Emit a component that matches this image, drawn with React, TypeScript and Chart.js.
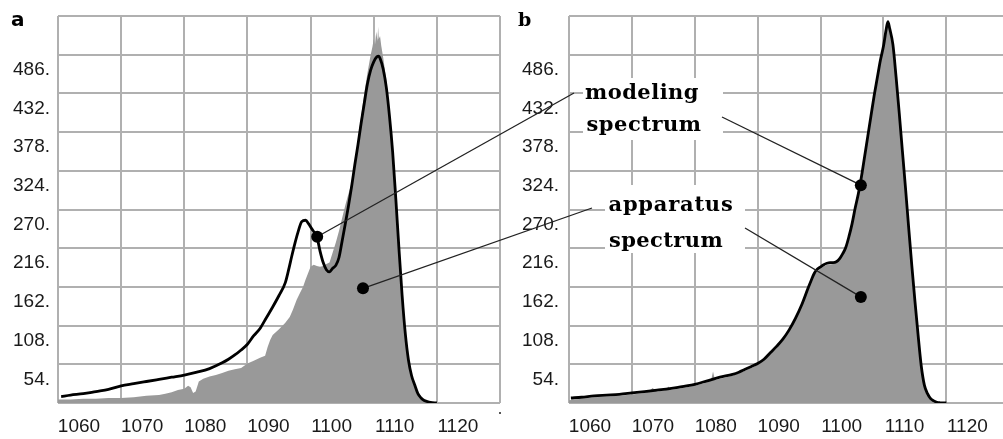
import React, { useEffect, useRef } from 'react';
import { Chart, registerables } from 'chart.js';

Chart.register(...registerables);

// Axis ranges and steps
const X_MIN = 1060;
const X_STEP = 10;
const X_LAST_LABEL = 1120;
const X_MAX_A = 1130;
const X_MAX_B = 1129;
const Y_MAX = 540;
const Y_STEP = 54;

// Panel a: modeling spectrum
const modelAX = [1060.5, 1062, 1064, 1066, 1068, 1070, 1072, 1074, 1076, 1078, 1080, 1082, 1084, 1086, 1087, 1088, 1089, 1090, 1091, 1092, 1093, 1094, 1095, 1096, 1096.5, 1097, 1097.5, 1098, 1098.6, 1099.2, 1099.7, 1100.2, 1100.6, 1101, 1101.5, 1102, 1102.5, 1103, 1103.5, 1104, 1104.5, 1105, 1105.5, 1106, 1106.5, 1107, 1107.5, 1108, 1108.5, 1109, 1109.5, 1110, 1110.5, 1110.8, 1111, 1111.5, 1112, 1112.5, 1113, 1113.5, 1114, 1114.5, 1115, 1115.5, 1116, 1116.5, 1117, 1117.5, 1118, 1118.5, 1119, 1120];
const modelAY = [9, 11, 13, 16, 19, 24, 27, 30, 33, 36, 39, 43, 48, 56, 61, 67, 74, 82, 94, 104, 119, 134, 150, 168, 185, 204, 222, 238, 253, 255, 250, 243, 238, 232, 212, 196, 186, 183, 188, 192, 203, 226, 250, 275, 302, 332, 360, 390, 418, 445, 464, 476, 483, 484, 481, 466, 440, 400, 350, 285, 215, 150, 97, 60, 38, 25, 13, 7, 3.5, 2, 1, 0];

// Panel a: apparatus spectrum
const appAX = [1060, 1062, 1064, 1066, 1068, 1070, 1072, 1074, 1076, 1077, 1078, 1079, 1080, 1080.6, 1081, 1081.4, 1081.8, 1082.3, 1083, 1084, 1085, 1086, 1087, 1088, 1089, 1090, 1091, 1092, 1092.8, 1093.2, 1093.6, 1094, 1095, 1096, 1096.7, 1097.2, 1097.8, 1098.3, 1098.8, 1099.2, 1099.6, 1100, 1100.5, 1101, 1101.5, 1102, 1102.5, 1103, 1103.5, 1104, 1104.5, 1105, 1105.5, 1106, 1106.5, 1107, 1107.5, 1108, 1108.5, 1109, 1109.5, 1109.8, 1110, 1110.2, 1110.4, 1110.6, 1110.7, 1110.8, 1111, 1111.2, 1111.5, 1112, 1112.5, 1113, 1113.5, 1114, 1114.5, 1115, 1115.5, 1116, 1116.5, 1117, 1117.5, 1118, 1118.5, 1119, 1119.5];
const appAY = [5, 5, 6, 6, 7, 7, 8, 10, 11, 13, 15, 18, 20, 24, 22, 14, 16, 30, 34, 37, 39, 42, 45, 47, 49, 55, 59, 63, 66, 78, 88, 95, 103, 112, 120, 130, 144, 153, 162, 172, 181, 190, 193, 191, 190, 191, 194, 196, 210, 224, 240, 258, 276, 292, 307, 335, 367, 400, 432, 460, 485, 497, 508, 500, 518, 505, 525, 508, 512, 498, 482, 450, 405, 352, 285, 213, 148, 95, 58, 36, 22, 12, 6, 3, 1.5, 0.5, 0];

// Panel b: modeling spectrum
const modelBX = [1060.3, 1062, 1064, 1066, 1068, 1070, 1072, 1074, 1076, 1078, 1080, 1082, 1084, 1086, 1087, 1088, 1089, 1090, 1091, 1092, 1093, 1094, 1095, 1096, 1097, 1098, 1098.5, 1099, 1099.5, 1100, 1100.5, 1101, 1101.5, 1102, 1102.5, 1103, 1103.5, 1104, 1104.5, 1105, 1105.5, 1106, 1106.5, 1107, 1107.5, 1108, 1108.5, 1109, 1109.5, 1110, 1110.4, 1110.7, 1111, 1111.5, 1112, 1112.5, 1113, 1113.5, 1114, 1114.5, 1115, 1115.5, 1116, 1116.5, 1117, 1117.5, 1118, 1118.5, 1119, 1120];
const modelBY = [7, 8, 10, 11, 12, 14, 16, 18, 20, 23, 26, 31, 36, 40, 43, 47, 51, 55, 61, 70, 79, 89, 102, 118, 137, 160, 171, 181, 187, 190, 193, 195, 196, 196, 197, 201, 208, 217, 232, 250, 272, 292, 316, 344, 372, 400, 428, 453, 478, 498, 520, 532, 522, 500, 455, 405, 352, 300, 245, 192, 142, 95, 52, 25, 13, 6, 3, 1, 0.3, 0];

// Panel b: apparatus spectrum
const appBX = [1060, 1062, 1064, 1066, 1068, 1070, 1072, 1072.8, 1073.3, 1073.8, 1074, 1075.4, 1075.8, 1076.2, 1078, 1080, 1082, 1082.6, 1082.9, 1083.2, 1084, 1086, 1088, 1090, 1092, 1094, 1096, 1098, 1099, 1100, 1101, 1102, 1103, 1104, 1105, 1106, 1107, 1108, 1109, 1110, 1110.4, 1110.7, 1111, 1111.5, 1112, 1112.5, 1113, 1113.5, 1114, 1114.5, 1115, 1115.5, 1116, 1116.5, 1117, 1117.5, 1118, 1118.5, 1119];
const appBY = [4, 6, 8, 9, 10, 12, 14, 17, 21, 17, 16, 18, 23, 18, 21, 24, 29, 32, 44, 32, 34, 38, 45, 53, 68, 87, 116, 158, 179, 188, 193, 194, 199, 215, 248, 290, 342, 398, 451, 496, 518, 530, 520, 498, 453, 403, 350, 298, 243, 190, 140, 93, 50, 24, 12, 5, 2, 1, 0];

// Points the callout leaders point at (x, intensity)
const dotModelingA = [1101.05, 232];
const dotApparatusA = [1108.3, 160];
const dotModelingB = [1106.4, 304];
const dotApparatusB = [1106.4, 148];

const GRID = '#b0b0b0';
const GRAY = '#999999';
const INK = '#1a1a1a';
const TICK_FONT = { family: "'Liberation Sans', Arial, sans-serif", size: 19 };
const CALLOUT_FONT = "bold 21px 'DejaVu Serif', serif";

type Pt = { x: number; y: number };
const toPoints = (xs: number[], ys: number[]): Pt[] => xs.map((x, i) => ({ x, y: ys[i] }));

type Leader = { from: [number, number]; panel: 'a' | 'b'; dot: number[] };
type Callout = {
  box: [number, number, number, number];
  lines: { text: string; cx: number; base: number; width: number }[];
  leaders: Leader[];
};

const CALLOUTS: Callout[] = [
  {
    box: [583, 78, 140, 62],
    lines: [
      { text: 'modeling', cx: 642, base: 99, width: 114 },
      { text: 'spectrum', cx: 644, base: 131, width: 115 },
    ],
    leaders: [
      { from: [574, 93], panel: 'a', dot: dotModelingA },
      { from: [722, 117], panel: 'b', dot: dotModelingB },
    ],
  },
  {
    box: [605, 185, 140, 68],
    lines: [
      { text: 'apparatus', cx: 671, base: 211, width: 125 },
      { text: 'spectrum', cx: 666, base: 247, width: 114 },
    ],
    leaders: [
      { from: [592, 208], panel: 'a', dot: dotApparatusA },
      { from: [745, 228], panel: 'b', dot: dotApparatusB },
    ],
  },
];

function panelTag(text: string, font: string, x: number, y: number, extra?: (ctx: CanvasRenderingContext2D) => void) {
  return {
    id: 'panelTag',
    afterDraw(chart: Chart) {
      const ctx = chart.ctx;
      ctx.save();
      ctx.fillStyle = '#000';
      ctx.font = font;
      ctx.textBaseline = 'alphabetic';
      ctx.textAlign = 'left';
      ctx.fillText(text, x, y);
      if (extra) extra(ctx);
      ctx.restore();
    },
  };
}

function calloutPlugin(getPanelA: () => Chart | null) {
  return {
    id: 'callouts',
    afterDraw(chart: Chart) {
      const panelA = getPanelA();
      if (!panelA) return;
      const ctx = chart.ctx;
      const toPx = (c: Chart, p: number[]) => [c.scales.x.getPixelForValue(p[0]), c.scales.y.getPixelForValue(p[1])];
      ctx.save();
      for (const c of CALLOUTS) {
        ctx.fillStyle = '#ffffff';
        ctx.fillRect(c.box[0], c.box[1], c.box[2], c.box[3]);
      }
      ctx.strokeStyle = '#222';
      ctx.lineWidth = 1.3;
      for (const c of CALLOUTS) {
        for (const l of c.leaders) {
          const [dx, dy] = toPx(l.panel === 'a' ? panelA : chart, l.dot);
          ctx.beginPath();
          ctx.moveTo(l.from[0], l.from[1]);
          ctx.lineTo(dx, dy);
          ctx.stroke();
          ctx.beginPath();
          ctx.fillStyle = '#000';
          ctx.arc(dx, dy, 6, 0, Math.PI * 2);
          ctx.fill();
        }
      }
      ctx.fillStyle = '#000';
      ctx.font = CALLOUT_FONT;
      ctx.textAlign = 'left';
      ctx.textBaseline = 'alphabetic';
      for (const c of CALLOUTS) {
        for (const ln of c.lines) {
          (ctx as any).letterSpacing = '0px';
          const w0 = ctx.measureText(ln.text).width;
          const sp = (ln.width - w0) / ln.text.length;
          (ctx as any).letterSpacing = `${sp}px`;
          ctx.fillText(ln.text, ln.cx - ln.width / 2, ln.base);
        }
      }
      ctx.restore();
    },
  };
}

function makeConfig(p: {
  model: Pt[];
  app: Pt[];
  xMax: number;
  padLeft: number;
  padRight: number;
  yAxisWidth: number;
  yPad: number;
  plugins: any[];
}): any {
  const grid = { color: GRID, lineWidth: 2, drawTicks: false };
  return {
    type: 'line',
    data: {
      datasets: [
        {
          label: 'modeling spectrum',
          data: p.model,
          borderColor: '#000',
          borderWidth: 2.8,
          pointRadius: 0,
          fill: false,
          cubicInterpolationMode: 'monotone',
          order: 1,
        },
        {
          label: 'apparatus spectrum',
          data: p.app,
          borderWidth: 0,
          borderColor: 'rgba(0,0,0,0)',
          backgroundColor: GRAY,
          pointRadius: 0,
          fill: 'origin',
          tension: 0,
          order: 2,
        },
      ],
    },
    options: {
      responsive: false,
      animation: false,
      devicePixelRatio: 1,
      events: [],
      layout: { padding: { left: p.padLeft, right: p.padRight, top: 16, bottom: 0 } },
      plugins: { legend: { display: false }, tooltip: { enabled: false }, title: { display: false } },
      scales: {
        x: {
          type: 'linear',
          min: X_MIN,
          max: p.xMax,
          grid,
          border: { display: false },
          ticks: {
            stepSize: X_STEP,
            includeBounds: false,
            autoSkip: false,
            maxRotation: 0,
            minRotation: 0,
            labelOffset: 21,
            padding: 12,
            color: INK,
            font: TICK_FONT,
            callback: (v: number) => (v <= X_LAST_LABEL ? String(v) : ''),
          },
          afterFit: (s: any) => {
            s.height = 36;
            s.paddingLeft = 0;
            s.paddingRight = 0;
          },
        },
        y: {
          type: 'linear',
          min: 0,
          max: Y_MAX,
          grid,
          border: { display: false },
          ticks: {
            stepSize: Y_STEP,
            autoSkip: false,
            labelOffset: 15,
            padding: p.yPad,
            color: INK,
            font: TICK_FONT,
            callback: (v: number) => (v > 0 && v < Y_MAX ? `${v}.` : ''),
          },
          afterFit: (s: any) => {
            s.width = p.yAxisWidth;
            s.paddingTop = 0;
            s.paddingBottom = 0;
          },
        },
      },
    },
    plugins: p.plugins,
  };
}

export default function App() {
  const refA = useRef<HTMLCanvasElement>(null);
  const refB = useRef<HTMLCanvasElement>(null);

  useEffect(() => {
    if (!refA.current || !refB.current) return;
    let chartA: Chart | null = null;
    chartA = new Chart(
      refA.current,
      makeConfig({
        model: toPoints(modelAX, modelAY),
        app: toPoints(appAX, appAY),
        xMax: X_MAX_A,
        padLeft: 0,
        padRight: 503,
        yAxisWidth: 58,
        yPad: 8,
        plugins: [
          panelTag('a', "bold 20px 'DejaVu Sans', sans-serif", 11, 26, (ctx) => {
            ctx.fillStyle = '#555';
            ctx.fillRect(499, 412, 2, 2);
          }),
        ],
      })
    );
    const chartB = new Chart(
      refB.current,
      makeConfig({
        model: toPoints(modelBX, modelBY),
        app: toPoints(appBX, appBY),
        xMax: X_MAX_B,
        padLeft: 500,
        padRight: 0,
        yAxisWidth: 69,
        yPad: 10,
        plugins: [panelTag('b', "bold 19px 'DejaVu Serif', serif", 518, 26), calloutPlugin(() => chartA)],
      })
    );
    return () => {
      chartB.destroy();
      chartA?.destroy();
      chartA = null;
    };
  }, []);

  const canvasStyle: React.CSSProperties = { position: 'absolute', left: 0, top: 0, width: 1003, height: 439 };
  return (
    <div style={{ position: 'fixed', left: 0, top: 0, width: 1003, height: 439, background: '#fff', overflow: 'hidden' }}>
      <canvas ref={refA} width={1003} height={439} style={canvasStyle} />
      <canvas ref={refB} width={1003} height={439} style={canvasStyle} />
    </div>
  );
}
